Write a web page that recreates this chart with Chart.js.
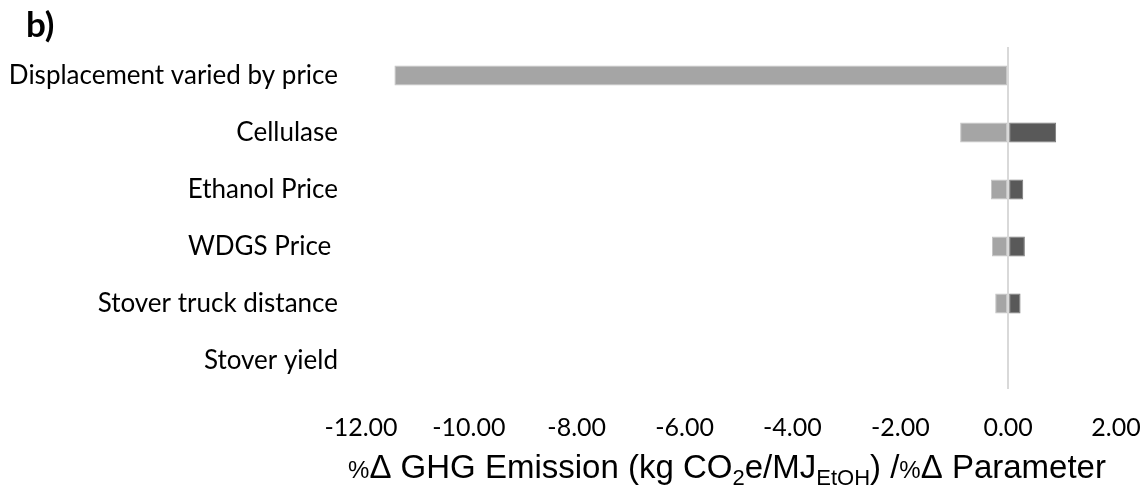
<!DOCTYPE html>
<html>
<head>
<meta charset="utf-8">
<script src="https://cdn.jsdelivr.net/npm/chart.js@4.4.1/dist/chart.umd.min.js"></script>
<style>
  html, body { margin: 0; padding: 0; background: #fff; overflow: hidden; }
  #wrap { position: relative; width: 1147px; height: 498px; }
  canvas { display: block; }
</style>
</head>
<body>
<div id="wrap"><canvas id="chart"></canvas></div>
<script>
// Sensitivity parameters (one row each)
const categories = [
  'Displacement varied by price',
  'Cellulase',
  'Ethanol Price',
  'WDGS Price ',
  'Stover truck distance',
  'Stover yield'
];
// Response to a decrease / increase of each parameter
const lowValues  = [-11.38, -0.89, -0.32, -0.30, -0.24, 0.00];
const highValues = [  0.00,  0.89,  0.28,  0.31,  0.23, 0.00];
// Horizontal axis ticks
const xTicks = [-12, -10, -8, -6, -4, -2, 0, 2];

const panelLabel = 'b)';
const titleParts = [
  { t: '%', size: 24, dy: 0 },
  { t: '\u0394 GHG Emission (kg CO', size: 33, dy: 0 },
  { t: '2', size: 22, dy: 7 },
  { t: 'e/MJ', size: 33, dy: 0 },
  { t: 'EtOH', size: 22, dy: 7 },
  { t: ') /', size: 33, dy: 0 },
  { t: '%', size: 24, dy: 0 },
  { t: '\u0394 Parameter', size: 33, dy: 0 }
];

// Draws the panel letter and the x-axis title (with subscripts)
const annotations = {
  id: 'annotations',
  afterDraw(chart) {
    const ctx = chart.ctx;
    ctx.save();
    ctx.fillStyle = '#000';
    ctx.textBaseline = 'alphabetic';
    ctx.textAlign = 'left';
    ctx.font = 'bold 35px Lato';
    ctx.fillText(panelLabel, 26, 37);

    let total = 0;
    titleParts.forEach(p => {
      ctx.font = p.size + 'px "Liberation Sans"';
      total += ctx.measureText(p.t).width;
    });
    let x = 727 - total / 2;
    const base = 478;
    titleParts.forEach(p => {
      ctx.font = p.size + 'px "Liberation Sans"';
      ctx.fillText(p.t, x, base + p.dy);
      x += ctx.measureText(p.t).width;
    });
    ctx.restore();
  }
};

new Chart(document.getElementById('chart'), {
  type: 'bar',
  data: {
    labels: categories,
    datasets: [
      {
        label: 'Low',
        data: lowValues,
        backgroundColor: '#a5a5a5',
        borderColor: '#c4c4c4',
        borderWidth: 1,
        borderSkipped: false,
        categoryPercentage: 1,
        barPercentage: 0.35
      },
      {
        label: 'High',
        data: highValues,
        backgroundColor: '#595959',
        borderColor: '#7a7a7a',
        borderWidth: 1,
        borderSkipped: false,
        categoryPercentage: 1,
        barPercentage: 0.35
      }
    ]
  },
  options: {
    indexAxis: 'y',
    responsive: true,
    maintainAspectRatio: false,
    animation: false,
    layout: { padding: { top: 47, left: 0, right: 31, bottom: 0 } },
    plugins: {
      legend: { display: false },
      tooltip: { enabled: false },
      title: { display: false }
    },
    scales: {
      x: {
        stacked: true,
        min: -12,
        max: 2,
        z: 1,
        afterBuildTicks(scale) {
          scale.ticks = xTicks.map(v => ({ value: v }));
        },
        afterFit(scale) {
          scale.height = 109;
          scale.paddingLeft = 0;
          scale.paddingRight = 0;
        },
        border: { display: false },
        grid: {
          drawTicks: false,
          color: ctx => (ctx.tick && ctx.tick.value === 0) ? '#d9d9d9' : 'rgba(0,0,0,0)',
          lineWidth: 2
        },
        ticks: {
          padding: 24,
          color: '#000',
          font: { family: 'Lato', size: 25 },
          maxRotation: 0,
          callback: v => Number(v).toFixed(2)
        }
      },
      y: {
        stacked: true,
        afterFit(scale) { scale.width = 361; },
        border: { display: false },
        grid: { display: false, drawTicks: false },
        ticks: {
          padding: 23,
          color: '#000',
          font: { family: 'Lato', size: 26 }
        }
      }
    }
  },
  plugins: [annotations]
});
</script>
</body>
</html>
